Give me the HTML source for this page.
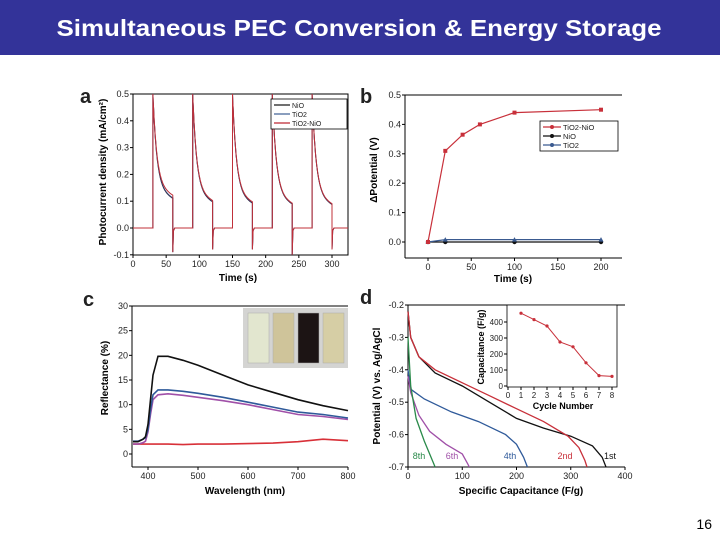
<!DOCTYPE html>
<html><head><meta charset="utf-8"><style>
html,body{margin:0;padding:0;background:#fff;}
svg{display:block;font-family:"Liberation Sans",Arial,sans-serif;}
</style></head><body>
<svg id="s" width="720" height="540" viewBox="0 0 720 540" xmlns="http://www.w3.org/2000/svg">
<rect x="0" y="0" width="720" height="55" fill="#333399"/>
<text x="359" y="36" text-anchor="middle" fill="#fff" font-size="23" font-weight="bold" textLength="605" lengthAdjust="spacingAndGlyphs">Simultaneous PEC Conversion &amp; Energy Storage</text>
<text x="712" y="529" text-anchor="end" font-size="14" fill="#000">16</text>
<g id="root"></g>
</svg>
<script>
// ---------- Panel a data ----------
const aOnTimes=[30,90,150,210,270];
const aOffTimes=[60,120,180,240,300];
const aEndNiO=[0.108,0.095,0.09,0.087,0.085];
const aEndTiO2=[0.11,0.096,0.091,0.088,0.086];
const aEndTiO2NiO=[0.12,0.1,0.095,0.09,0.088];
const aNegSpike=[-0.09,-0.08,-0.08,-0.1,-0.08];
const aXTicks=[0,50,100,150,200,250,300];
const aYTicks=[-0.1,0.0,0.1,0.2,0.3,0.4,0.5];
// ---------- Panel b data ----------
const bTimeMain=[0,20,40,60,100,200];
const bTiO2NiO=[0,0.31,0.365,0.4,0.44,0.45];
const bTime=[0,20,100,200];
const bNiO=[0,0,0,0];
const bTiO2=[0,0.008,0.008,0.008];
const bXTicks=[0,50,100,150,200];
const bYTicks=[0,0.1,0.2,0.3,0.4,0.5];
// ---------- Panel c data ----------
const cWl=[370,380,390,395,400,405,410,420,440,470,500,550,600,650,700,750,800];
const cBlack=[2.5,2.5,3,3.5,6,11,16,19.8,19.8,19,18,16,14,12.5,11,9.8,8.8];
const cBlue=[2.6,2.6,3,3.3,5,9,12,13,13,12.7,12.3,11.5,10.5,9.5,8.5,8,7.3];
const cPurple=[2,2,2.3,2.6,4.5,8,11,12,12.2,11.9,11.5,10.8,10,9,8,7.6,7];
const cRed=[2,2,2,2,2,2,2,2,2,1.9,2,2,2.1,2.2,2.5,3,2.7];
const cXTicks=[400,500,600,700,800];
const cYTicks=[0,5,10,15,20,25,30];
// ---------- Panel d data ----------
const d1C=[0,5,20,50,100,150,200,250,300,340,358,365];
const d1V=[-0.22,-0.3,-0.36,-0.41,-0.45,-0.5,-0.55,-0.58,-0.605,-0.635,-0.67,-0.7];
const d2C=[0,5,20,50,100,150,200,250,295,315,326,330];
const d2V=[-0.22,-0.3,-0.36,-0.4,-0.44,-0.48,-0.52,-0.56,-0.605,-0.64,-0.68,-0.7];
const d4C=[0,5,30,80,130,180,200,213,220];
const d4V=[-0.4,-0.46,-0.49,-0.53,-0.56,-0.6,-0.63,-0.67,-0.7];
const d6C=[0,5,20,40,70,100,110,113];
const d6V=[-0.42,-0.47,-0.54,-0.59,-0.63,-0.66,-0.69,-0.7];
const d8C=[0,5,15,30,45,50];
const d8V=[-0.3,-0.45,-0.55,-0.62,-0.68,-0.7];
const dXTicks=[0,100,200,300,400];
const dYTicks=[-0.2,-0.3,-0.4,-0.5,-0.6,-0.7];
const insCycles=[1,2,3,4,5,6,7,8];
const insCap=[455,415,375,275,245,145,65,60];
const insXTicks=[0,1,2,3,4,5,6,7,8];
const insYTicks=[0,100,200,300,400];

const NS="http://www.w3.org/2000/svg";
const root=document.getElementById('root');
function el(tag,attrs,parent,txt){const e=document.createElementNS(NS,tag);for(const k in attrs)e.setAttribute(k,attrs[k]);if(txt!==undefined)e.textContent=txt;(parent||root).appendChild(e);return e;}
function lin(d0,d1,r0,r1){return v=>r0+(v-d0)*(r1-r0)/(d1-d0);}
function pathOf(xs,ys,fx,fy){return xs.map((x,i)=>(i?'L':'M')+fx(x).toFixed(1)+' '+fy(ys[i]).toFixed(1)).join(' ');}

function axes(g,x0,y0,x1,y1,fx,fy,xt,yt,fmtX,fmtY,frame){
  el('rect',{x:x0,y:y0,width:x1-x0,height:y1-y0,fill:'none',stroke:frame?'#000':'none','stroke-width':1},g);
  if(!frame){el('line',{x1:x0,y1:y0,x2:x0,y2:y1,stroke:'#000'},g);el('line',{x1:x0,y1:y1,x2:x1,y2:y1,stroke:'#000'},g);el('line',{x1:x0,y1:y0,x2:x1,y2:y0,stroke:'#000'},g);}
  xt.forEach(v=>{const x=fx(v);el('line',{x1:x,y1:y1,x2:x,y2:y1+3,stroke:'#000'},g);
    const t=el('text',{x:x,y:y1+12,'text-anchor':'middle','font-size':9,fill:'#222'},g,fmtX(v));});
  yt.forEach(v=>{const y=fy(v);el('line',{x1:x0-3,y1:y,x2:x0,y2:y,stroke:'#000'},g);
    const t=el('text',{x:x0-4,y:y+3,'text-anchor':'end','font-size':9,fill:'#222'},g,fmtY(v));});
}
function label(g,txt,x,y,rot,name,size){const t=el('text',{x:x,y:y,'text-anchor':'middle','font-size':size||10,'font-weight':'bold',fill:'#000',transform:rot?`rotate(-90 ${x} ${y})`:''},g,txt);return t;}
function letter(g,t,x,y){const e=el('text',{x:x,y:y,'font-size':20,'font-weight':'bold',fill:'#222'},g,t);}

// ===== Panel a =====
{
const g=el('g',{});
const fx=lin(0,300,133,332), fy=lin(0,0.5,228,94);
const X0=133,X1=348,Y0=94,Y1=255;
axes(g,X0,Y0,X1,Y1,fx,fy,aXTicks,aYTicks,v=>v,v=>v.toFixed(1),true);
const cpa=el('clipPath',{id:'ca'},g);
el('rect',{x:X0,y:Y0,width:X1-X0,height:Y1-Y0},cpa);
function series(ends,color,name){
  let d='M'+fx(0)+' '+fy(0);
  aOnTimes.forEach((on,i)=>{const off=aOffTimes[i],e=ends[i];
    d+=` L${fx(on)} ${fy(0)} L${fx(on)} ${fy(0.6)}`;
    for(let t=on;t<=off;t+=0.5){const s=t-on;const v=e+(0.5-e)*Math.exp(-s/6)+0.035*(1-s/30)*(1-Math.exp(-s/6));d+=` L${fx(t).toFixed(1)} ${fy(v).toFixed(1)}`;}
    d+=` L${fx(off)} ${fy(aNegSpike[i])} L${fx(off+1)} ${fy(-0.01)} L${fx(off+3)} ${fy(0)}`;});
  d+=` L${fx(325)} ${fy(0)}`;
  const p=el('path',{d:d,fill:'none',stroke:color,'stroke-width':1,'clip-path':'url(#ca)'},g);
}
series(aEndTiO2,'#4a6a9a','line-tio2');series(aEndNiO,'#333355','line-nio');series(aEndTiO2NiO,'#c0303a','line-tio2-nio');
const lg=el('g',{},g);
el('rect',{x:271,y:99,width:76,height:30,fill:'#fff',stroke:'#000','stroke-width':0.8},lg);
[['NiO','#222'],['TiO2','#4a6a9a'],['TiO2-NiO','#c0303a']].forEach((s,i)=>{const y=105+i*9;el('line',{x1:274,y1:y,x2:290,y2:y,stroke:s[1],'stroke-width':1.3},lg);el('text',{x:292,y:y+3,'font-size':7,fill:'#222'},lg,s[0]);});
label(g,'Time (s)',238,281,false,'x-axis-title-a');
label(g,'Photocurrent density (mA/cm²)',106,172,true,'y-axis-title-a');
letter(g,'a',80,103);
}
// ===== Panel b =====
{
const g=el('g',{});
const fx=lin(0,200,428,601), fy=lin(0,0.5,242,95);
axes(g,405,95,622,258,fx,fy,bXTicks,bYTicks,v=>v,v=>v.toFixed(1),false);
function ser(xs,ys,c,name,mk){const p=el('path',{d:pathOf(xs,ys,fx,fy),fill:'none',stroke:c,'stroke-width':1.2},g);
  xs.forEach((x,i)=>{let m;if(mk==='s')m=el('rect',{x:fx(x)-2,y:fy(ys[i])-2,width:4,height:4,fill:c},g);else if(mk==='c')m=el('circle',{cx:fx(x),cy:fy(ys[i]),r:2.2,fill:c},g);else m=el('path',{d:`M${fx(x)} ${fy(ys[i])-2.5} l2.5 4.5 h-5 z`,fill:c},g);});}
ser(bTime,bNiO,'#111','line-nio','c');
ser(bTime,bTiO2,'#3a5a90','line-tio2','t');
ser(bTimeMain,bTiO2NiO,'#c8303a','line-tio2-nio','s');
const lg=el('g',{},g);
el('rect',{x:540,y:121,width:78,height:30,fill:'#fff',stroke:'#000','stroke-width':0.8},lg);
[['TiO2-NiO','#c8303a'],['NiO','#111'],['TiO2','#3a5a90']].forEach((s,i)=>{const y=127+i*9;el('line',{x1:543,y1:y,x2:561,y2:y,stroke:s[1],'stroke-width':1.3},lg);el('circle',{cx:552,cy:y,r:2,fill:s[1]},lg);el('text',{x:563,y:y+3,'font-size':7.5,fill:'#222'},lg,s[0]);});
label(g,'Time (s)',513,282,false,'x-axis-title-b');
label(g,'ΔPotential (V)',377,170,true,'y-axis-title-b');
letter(g,'b',360,103);
}
// ===== Panel c =====
{
const g=el('g',{});
const fx=lin(400,800,148,348), fy=lin(0,30,454,306);
axes(g,132,306,348,467,fx,fy,cXTicks,cYTicks,v=>v,v=>v,false);
function ser(ys,c,name){const p=el('path',{d:pathOf(cWl,ys,fx,fy),fill:'none',stroke:c,'stroke-width':1.6},g);}
ser(cRed,'#d83038','line-red');ser(cPurple,'#a050a8','line-purple');ser(cBlue,'#2f5a9a','line-blue');ser(cBlack,'#111','line-black');
const ph=el('g',{},g);
el('rect',{x:243,y:308,width:105,height:60,fill:'#d4d4d2'},ph);
[['#e2e6cf',248],['#cfc49a',273],['#1c1414',298],['#d6cea5',323]].forEach(v=>{el('rect',{x:v[1],y:313,width:21,height:50,fill:v[0],stroke:'#aaa','stroke-width':0.5},ph);});
label(g,'Wavelength (nm)',245,494,false,'x-axis-title-c');
label(g,'Reflectance (%)',108,378,true,'y-axis-title-c');
letter(g,'c',83,306);
}
// ===== Panel d =====
{
const g=el('g',{});
const fx=lin(0,400,408,625), fy=lin(-0.2,-0.7,305,467);
axes(g,408,305,625,467,fx,fy,dXTicks,dYTicks,v=>v,v=>v.toFixed(1),false);
function ser(xs,ys,c,name){const p=el('path',{d:pathOf(xs,ys,fx,fy),fill:'none',stroke:c,'stroke-width':1.3},g);}
ser(d1C,d1V,'#111','curve-1st');ser(d2C,d2V,'#c8303a','curve-2nd');ser(d4C,d4V,'#2f5a9a','curve-4th');ser(d6C,d6V,'#a050a8','curve-6th');ser(d8C,d8V,'#2a8a4a','curve-8th');
[['8th',419,'#2a8a4a'],['6th',452,'#a050a8'],['4th',510,'#2f5a9a'],['2nd',565,'#c8303a'],['1st',610,'#111']].forEach(v=>{const t=el('text',{x:v[1],y:459,'text-anchor':'middle','font-size':9,fill:v[2]},g,v[0]);});
const ig=el('g',{},g);
const ix=lin(0,8,508,612), iy=lin(0,400,386,322);
el('rect',{x:507,y:305,width:110,height:82,fill:'#fff',stroke:'#000','stroke-width':0.8},ig);
insXTicks.forEach(v=>{el('line',{x1:ix(v),y1:387,x2:ix(v),y2:390,stroke:'#000'},ig);const t=el('text',{x:ix(v),y:398,'text-anchor':'middle','font-size':8,fill:'#222'},ig,v);});
insYTicks.forEach(v=>{el('line',{x1:504,y1:iy(v),x2:507,y2:iy(v),stroke:'#000'},ig);const t=el('text',{x:503,y:iy(v)+3,'text-anchor':'end','font-size':8,fill:'#222'},ig,v);});
const ip=el('path',{d:pathOf(insCycles,insCap,ix,iy),fill:'none',stroke:'#c8303a','stroke-width':1},ig);
insCycles.forEach((c,i)=>{const m=el('circle',{cx:ix(c),cy:iy(insCap[i]),r:1.6,fill:'#c8303a'},ig);});
label(ig,'Cycle Number',563,409,false,'inset-x-axis-title',9);
label(ig,'Capacitance (F/g)',484,347,true,'inset-y-axis-title',9);
label(g,'Specific Capacitance (F/g)',521,494,false,'x-axis-title-d');
label(g,'Potential (V) vs. Ag/AgCl',380,386,true,'y-axis-title-d');
letter(g,'d',360,304);
}
</script>
</body></html>
